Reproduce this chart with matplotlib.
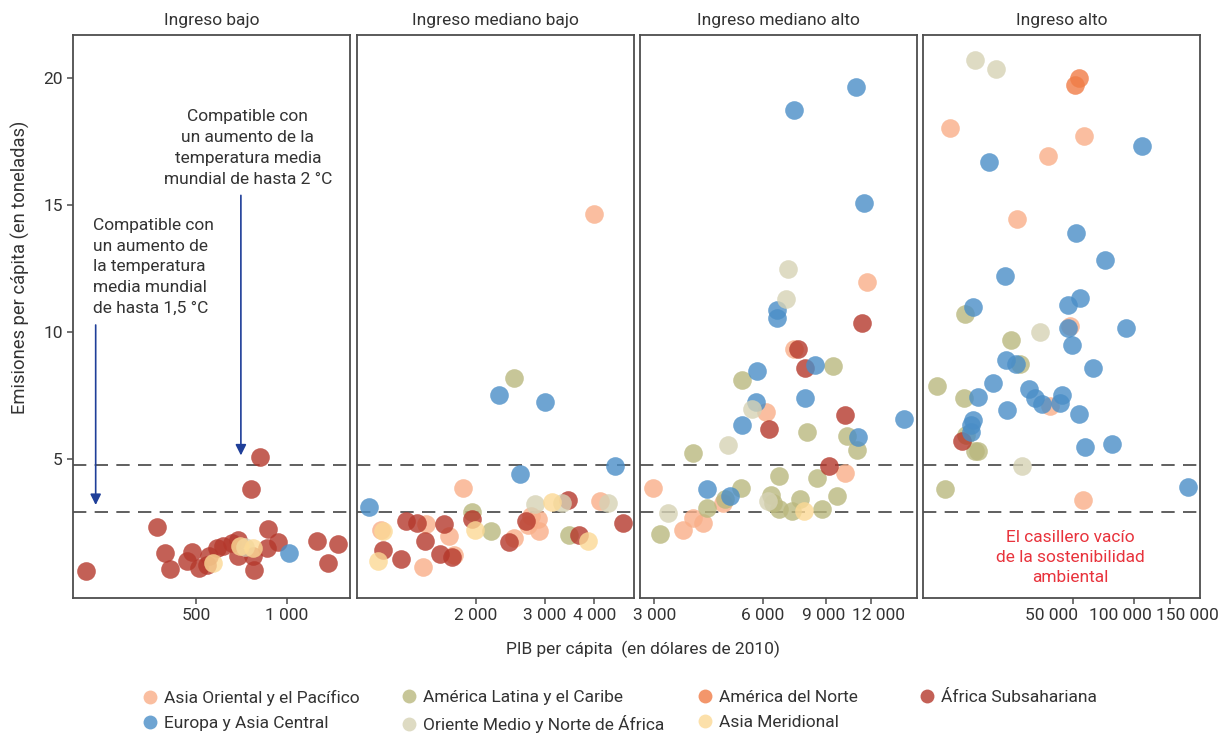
import matplotlib
matplotlib.use("Agg")
from matplotlib import pyplot as plt
from matplotlib.lines import Line2D
from matplotlib.transforms import ScaledTranslation
import matplotlib.ticker as mticker

plt.rcParams['font.family'] = ['Roboto', 'DejaVu Sans']

region_codes = ['EAP', 'LAC', 'NA', 'SSA', 'ECA', 'MNA', 'SA']
region_names = ['Asia Oriental y el Pacífico', 'América Latina y el Caribe', 'América del Norte',
                'África Subsahariana', 'Europa y Asia Central', 'Oriente Medio y Norte de África',
                'Asia Meridional']
region_colors = ['#F9AE88', '#BAB87E', '#F07C46', '#B5382C', '#4A8EC7', '#D6D2B5', '#FCD995']

panel_titles = ['Ingreso bajo', 'Ingreso mediano bajo', 'Ingreso mediano alto', 'Ingreso alto']

# Ingreso bajo
bajo_gdp = [216, 815, 761, 372, 396, 410, 484, 466, 513, 552, 543, 586, 617, 657, 690, 690, 771, 778,
            869, 862, 937, 1256, 1372, 1473, 571, 700, 775, 725, 1019]
bajo_co2 = [0.62, 5.09, 3.82, 2.33, 1.31, 0.71, 1.35, 1.0, 0.74, 1.19, 0.84, 1.52, 1.59, 1.72, 1.85, 1.19,
            1.19, 0.67, 2.28, 1.52, 1.74, 1.81, 0.91, 1.69, 0.93, 1.59, 1.52, 1.55, 1.33]
bajo_reg = ['SSA'] * 24 + ['SA', 'SA', 'SA', 'MNA', 'ECA']

# Ingreso mediano bajo
mbajo_gdp = [1075, 2297, 3000, 2588, 4520,
             2500, 1964, 2183, 3460,
             2825, 3311, 4348,
             4008, 1862, 1149, 1500, 1715, 1471, 1767, 2500, 2762, 2710, 2886, 2902, 4130,
             1334, 1417, 1666, 1488, 1163, 1295, 1623, 1745, 1958, 2427, 2683, 3433, 3656, 4735,
             1163, 1133, 1992, 3127, 3854]
mbajo_co2 = [3.12, 7.53, 7.28, 4.44, 4.75,
             8.22, 2.95, 2.17, 2.02,
             3.26, 3.27, 3.3,
             14.65, 3.86, 2.23, 2.45, 2.0, 0.76, 1.23, 1.9, 2.77, 2.41, 2.65, 2.17, 3.37,
             2.56, 2.49, 2.48, 1.8, 1.44, 1.10, 1.29, 1.15, 2.67, 1.77, 2.57, 3.41, 2.01, 2.52,
             2.2, 1.02, 2.24, 3.32, 1.81]
mbajo_reg = ['ECA'] * 5 + ['LAC'] * 4 + ['MNA'] * 3 + ['EAP'] * 13 + ['SSA'] * 14 + ['SA'] * 5

# Ingreso mediano alto
malto_gdp = [10870, 7328, 11460, 6577, 6560, 8400, 5780, 7850, 5740, 14860, 5275, 11040, 4197, 4865,
             7080, 6966, 5620, 4810, 6220, 3270,
             11710, 7328, 6120, 10160, 2978, 4650, 3857, 4090, 3597,
             11350, 7510, 7870, 10190, 6240, 9200,
             9440, 5275, 7950, 10280, 11000, 3857, 6670, 8470, 5210, 6320, 9680, 7600, 4720, 4197,
             6670, 7220, 8790, 6400, 3120,
             7800]
malto_co2 = [19.67, 18.75, 15.1, 10.88, 10.56, 8.73, 8.48, 7.41, 7.26, 6.59, 6.37, 5.87, 3.82, 3.58,
             12.5, 11.33, 7.0, 5.55, 3.37, 2.9,
             11.98, 9.36, 6.85, 4.45, 3.87, 3.3, 2.7, 2.51, 2.23,
             10.35, 9.36, 8.6, 6.74, 6.18, 4.76,
             8.67, 8.11, 6.07, 5.94, 5.39, 5.24, 4.34, 4.26, 3.87, 3.59, 3.56, 3.43, 3.45, 3.1,
             3.06, 2.97, 3.06, 3.3, 2.05,
             2.96]
malto_reg = ['ECA'] * 14 + ['MNA'] * 6 + ['EAP'] * 9 + ['SSA'] * 6 + ['LAC'] * 19 + ['SA']

# Ingreso alto
alto_gdp = [16330, 20940, 34500, 28100,
            53500, 51200,
            12360, 56600, 37760, 26400, 48300, 38500, 56200,
            108900, 19350, 51400, 71900, 23000, 53900, 47200, 16070, 47200, 91200, 49300, 23300,
            26000, 62700, 20100, 30300, 32500, 17060, 44000, 43300, 35200, 23700, 53500, 15970,
            15660, 15660, 57500, 77600, 184000,
            14690, 24700, 27400, 10620, 14470, 14890, 16410, 17040, 11700,
            14240]
alto_co2 = [20.7, 20.35, 10.01, 4.74,
            19.99, 19.74,
            18.03, 17.73, 16.93, 14.46, 10.25, 7.11, 3.41,
            17.32, 16.72, 13.9, 12.85, 12.22, 11.34, 11.06, 11.0, 10.18, 10.16, 9.49, 8.93,
            8.77, 8.58, 8.0, 7.78, 7.4, 7.45, 7.53, 7.23, 7.18, 6.93, 6.8, 6.57,
            6.34, 6.07, 5.51, 5.6, 3.91,
            10.74, 9.72, 8.74, 7.91, 7.43, 5.98, 5.35, 5.35, 3.82,
            5.74]
alto_reg = ['MNA'] * 4 + ['NA'] * 2 + ['EAP'] * 7 + ['ECA'] * 29 + ['LAC'] * 9 + ['SSA']

panel_gdp = [bajo_gdp, mbajo_gdp, malto_gdp, alto_gdp]
panel_co2 = [bajo_co2, mbajo_co2, malto_co2, alto_co2]
panel_reg = [bajo_reg, mbajo_reg, malto_reg, alto_reg]

panel_xlim = [(196, 1620), (1000, 5050), (2740, 16100), (9100, 211000)]
panel_xticks = [[500, 1000], [2000, 3000, 4000], [3000, 6000, 9000, 12000], [50000, 100000, 150000]]
# crowded tick labels are nudged sideways in the original (px)
label_shift = {2: [0, 0, -2, 7], 3: [-22, -14, 17]}

threshold_2c = 4.8
threshold_15c = 2.95

W, H = 1224, 734
fig = plt.figure(figsize=(W / 100, H / 100), dpi=100)
ax_lefts = [73, 357, 640, 923]
ax_w, ax_top, ax_bot = 277, 35, 598

spine_col = '#4d4d4d'
txt_col = '#333333'
fs = 12.5
axes = []
for i, left in enumerate(ax_lefts):
    ax = fig.add_axes([left / W, 1 - ax_bot / H, ax_w / W, (ax_bot - ax_top) / H])
    axes.append(ax)
    for code, col in zip(region_codes, region_colors):
        xs = [g for g, r in zip(panel_gdp[i], panel_reg[i]) if r == code]
        ys = [c for c, r in zip(panel_co2[i], panel_reg[i]) if r == code]
        ax.scatter(xs, ys, s=180, color=col, alpha=0.8, linewidths=0, zorder=3)
    ax.set_xscale('log')
    ax.set_xlim(*panel_xlim[i])
    ax.set_ylim(-0.45, 21.7)
    ax.xaxis.set_major_locator(mticker.FixedLocator(panel_xticks[i]))
    ax.xaxis.set_minor_locator(mticker.NullLocator())
    ax.set_xticklabels(['{:,}'.format(t).replace(',', ' ') for t in panel_xticks[i]])
    for yv in (threshold_2c, threshold_15c):
        ax.axhline(yv, color='#444444', lw=1.2, ls=(0, (8, 5)), zorder=2)
    for sp in ax.spines.values():
        sp.set_color(spine_col)
        sp.set_linewidth(1.3)
    ax.tick_params(axis='both', colors=spine_col, labelcolor=txt_col, labelsize=fs,
                   length=4, width=1.1, direction='out')
    if i == 0:
        ax.set_yticks([5, 10, 15, 20])
    else:
        ax.set_yticks([])
    ax.set_title(panel_titles[i], fontsize=fs, color=txt_col, pad=7)

for i, shifts in label_shift.items():
    for lab, dx in zip(axes[i].get_xticklabels(), shifts):
        lab.set_transform(lab.get_transform() + ScaledTranslation(dx / 100, 0, fig.dpi_scale_trans))

# annotations in the first panel
ax0 = axes[0]
arrow_col = '#1F3F99'
ax0.text(743, 18.8, 'Compatible con\nun aumento de la\ntemperatura media\nmundial de hasta 2 °C',
         ha='center', va='top', fontsize=fs, color=txt_col, linespacing=1.5)
ax0.annotate('', xy=(705, 5.05), xytext=(705, 15.5),
             arrowprops=dict(arrowstyle='-|>', color=arrow_col, lw=1.2, mutation_scale=16))
ax0.text(228, 14.5, 'Compatible con\nun aumento de\nla temperatura\nmedia mundial\nde hasta 1,5 °C',
         ha='left', va='top', fontsize=fs, color=txt_col, linespacing=1.47)
ax0.annotate('', xy=(233, 3.1), xytext=(233, 10.4),
             arrowprops=dict(arrowstyle='-|>', color=arrow_col, lw=1.2, mutation_scale=16))

axes[3].text(48300, 1.14, 'El casillero vacío\nde la sostenibilidad\nambiental', ha='center', va='center',
             fontsize=fs, color='#E8333C', linespacing=1.4)

fig.text(20 / W, 1 - 267 / H, 'Emisiones per cápita (en toneladas)', rotation=90, ha='center',
         va='center', fontsize=13.2, color=txt_col)
fig.text(643 / W, 1 - 649 / H, 'PIB per cápita  (en dólares de 2010)', ha='center', va='center',
         fontsize=fs, color=txt_col)

# legend, one block per column
legend_cols = [[0, 4], [1, 5], [2, 6], [3]]
legend_x = [150, 409, 705, 927]
for idxs, lx in zip(legend_cols, legend_x):
    handles = [Line2D([], [], marker='o', ls='', markersize=10, markerfacecolor=region_colors[k],
                      markeredgewidth=0, alpha=0.8) for k in idxs]
    fig.legend(handles, [region_names[k] for k in idxs], loc='upper left',
               bbox_to_anchor=((lx - 7) / W, 1 - 690 / H), frameon=False, fontsize=fs,
               handlelength=0.8, handletextpad=0.4, borderpad=0, borderaxespad=0,
               labelspacing=0.58, labelcolor=txt_col)

fig.savefig('out.png', dpi=100)
